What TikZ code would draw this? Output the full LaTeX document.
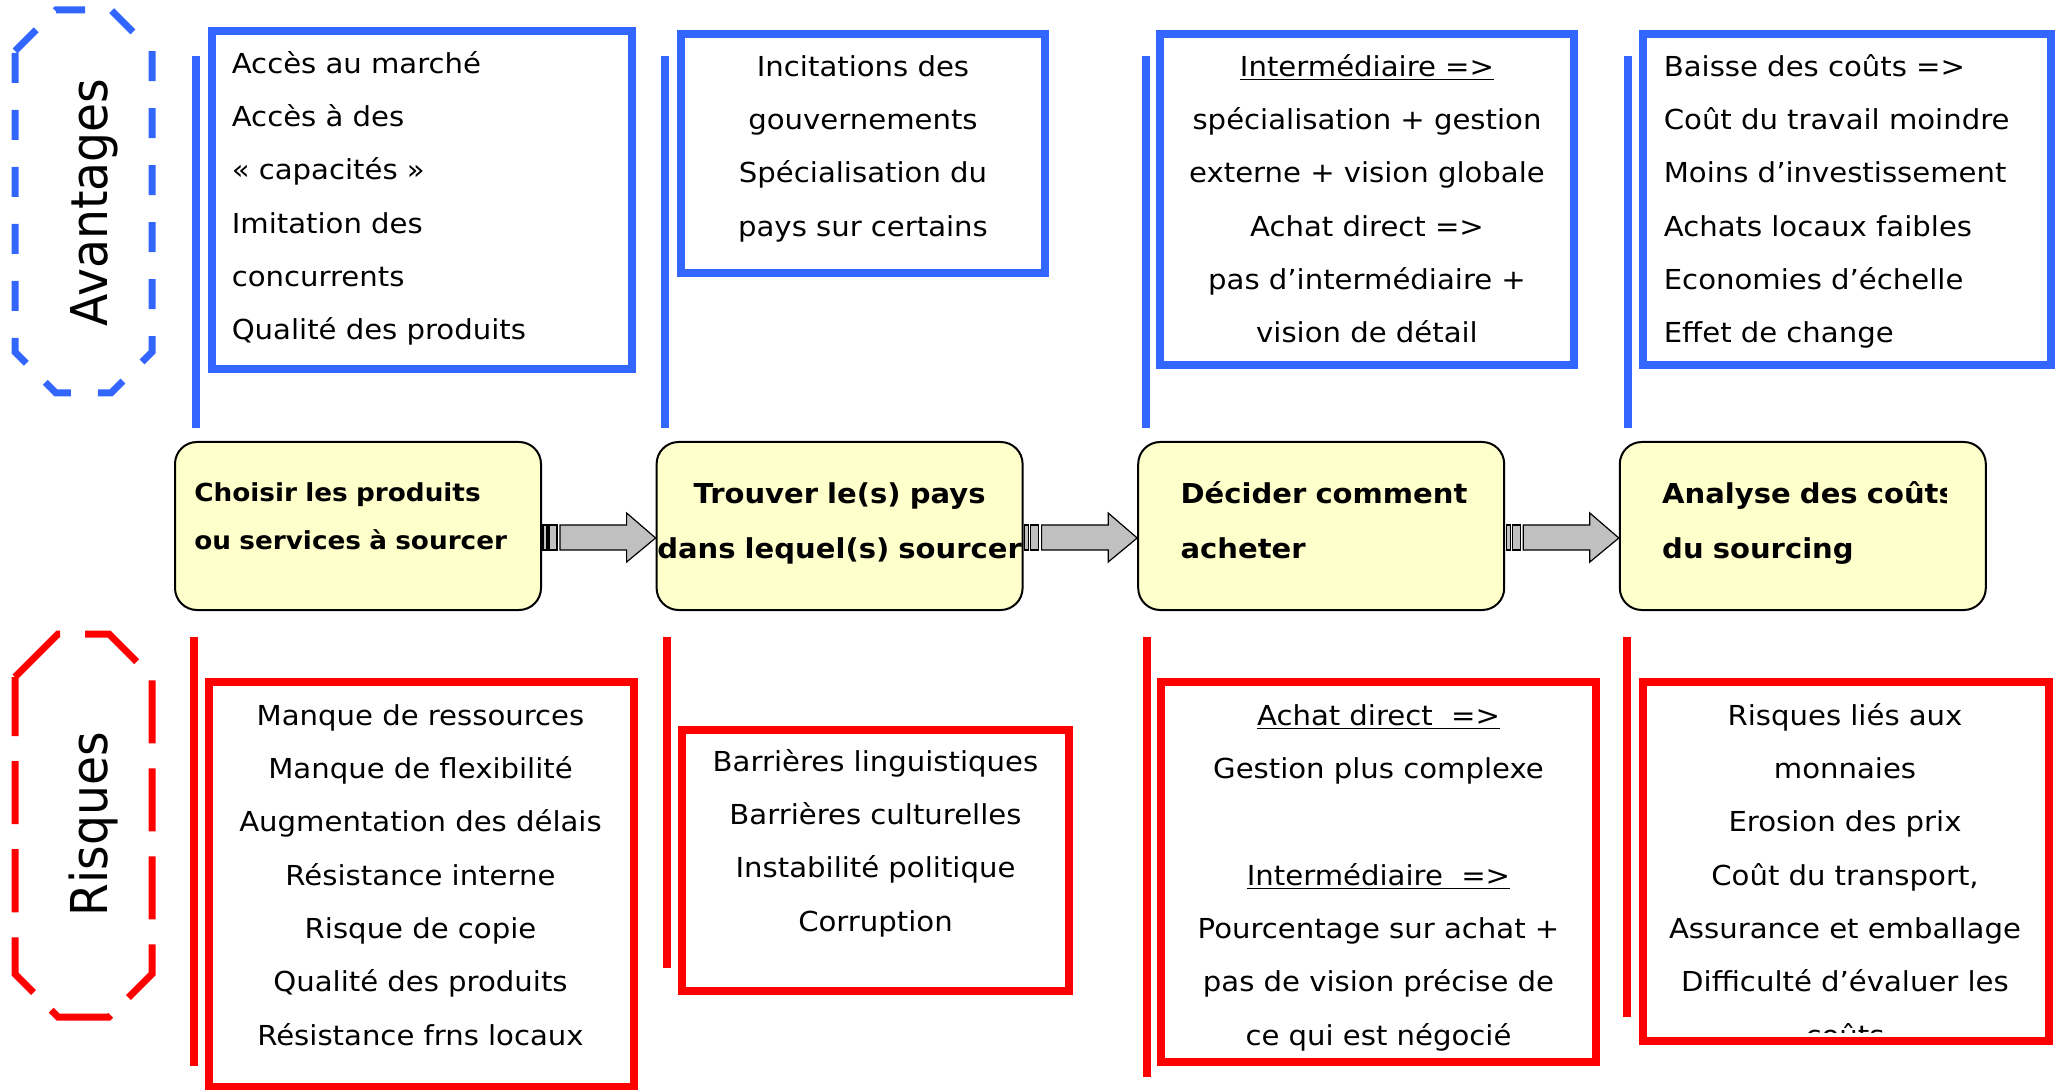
\documentclass[tikz,border=0pt]{standalone}
\usepackage{fontspec}
\setmainfont{DejaVu Sans}[FakeStretch=1.06]
\newfontfamily\sidefont{DejaVu Sans}[FakeStretch=0.93]
\usetikzlibrary{positioning,calc}
\definecolor{avblue}{HTML}{3366FF}
\definecolor{rired}{HTML}{FF0000}
\definecolor{stepfill}{HTML}{FFFFCC}
\definecolor{flowgrey}{HTML}{C0C0C0}
% striped block arrow between two step boxes
\newcommand{\stepflow}[2]{%
  \draw[flow] ($(#1.east)+(1,-1)$) rectangle ($(#1.east)+(5,24)$);
  \draw[flow] ($(#1.east)+(7,-1)$) rectangle ($(#1.east)+(15,24)$);
  \draw[flow] ($(#1.east)+(18,-1)$) -- ($(#2.west)+(-29,-1)$) -- ($(#2.west)+(-29,-13)$) -- ($(#2.west)+(0,12)$)
    -- ($(#2.west)+(-29,36)$) -- ($(#2.west)+(-29,24)$) -- ($(#1.east)+(18,24)$) -- cycle;}

\begin{document}
\begin{tikzpicture}[x=0.5pt,y=-0.5pt,
  avbox/.style={draw=avblue,line width=3.6pt,inner sep=0},
  ribox/.style={draw=rired,line width=3.8pt,inner sep=0},
  bar/.style={line width=3.6pt},
  octa/.style={line width=3.5pt},
  stepbox/.style={draw=black,fill=stepfill,rounded corners=11pt,line width=1pt,minimum width=183pt,minimum height=84pt,inner sep=0},
  flow/.style={draw=black,fill=flowgrey,line width=.6pt},
  txt/.style={font=\fontsize{13.75}{26.65}\selectfont,inner sep=0,text width=230pt,align=center,anchor=base},
  txtl/.style={txt,align=left,anchor=base west},
  steptxt/.style={font=\bfseries\fontsize{13.7}{27.5}\selectfont,inner sep=0,text width=200pt,align=left,anchor=base west},
  sidelabel/.style={font=\sidefont\fontsize{25.4}{30}\selectfont,inner sep=0,rotate=90,anchor=base}]
\useasboundingbox (0,0) rectangle (2060,1090);

% side labels
\draw[avblue,octa,dash pattern=on 15pt off 13.5pt] (15,51) -- (56,10) -- (111,10) -- (152,51) -- (152,352) -- (111,393) -- (56,393) -- (15,352) -- cycle;
\draw[rired,octa,dash pattern=on 31.5pt off 12.5pt] (15,677) -- (58,634) -- (109,634) -- (152,677) -- (152,974) -- (109,1017) -- (58,1017) -- (15,974) -- cycle;
\node[sidelabel] (avlabel) at (107,202.5) {Avantages};
\node[sidelabel] (rilabel) at (107,824) {Risques};

% bars
\draw[bar,avblue] (196,56) -- (196,428);
\draw[bar,avblue] (665,56) -- (665,428);
\draw[bar,avblue] (1146,56) -- (1146,428);
\draw[bar,avblue] (1628,56) -- (1628,428);
\draw[bar,rired] (194,637) -- (194,1066);
\draw[bar,rired] (667,637) -- (667,968);
\draw[bar,rired] (1147,637) -- (1147,1077);
\draw[bar,rired] (1627,637) -- (1627,1017);

% advantages
\node[avbox,minimum width=210pt,minimum height=169pt] (av1) at (422,200) {};
\node[avbox,minimum width=182pt,minimum height=119.5pt] (av2) at (863,153.5) {};
\node[avbox,minimum width=207pt,minimum height=165.5pt] (av3) at (1367,199.5) {};
\node[avbox,minimum width=204pt,minimum height=165.5pt] (av4) at (1847,199.5) {};
\node[txtl] (av1txt) at ($(av1.north west)+(23,46)$) {Accès au marché\\Accès à des\\« capacités »\\Imitation des\\concurrents\\Qualité des produits};
\node[txt] (av2txt) at ($(av2.north)+(0,46)$) {Incitations des\\gouvernements\\Spécialisation du\\pays sur certains};
\node[txt] (av3txt) at ($(av3.north)+(0,46)$) {\underline{Intermédiaire =>}\\spécialisation + gestion\\externe + vision globale\\Achat direct =>\\pas d’intermédiaire +\\vision de détail};
\node[txtl] (av4txt) at ($(av4.north west)+(24,46)$) {Baisse des coûts =>\\Coût du travail moindre\\Moins d’investissement\\Achats locaux faibles\\Economies d’échelle\\Effet de change};

% steps
\node[stepbox] (step1) at (358,526) {};
\node[stepbox,right=56.8pt of step1] (step2) {};
\node[stepbox,right=56.8pt of step2] (step3) {};
\node[stepbox,right=56.8pt of step3] (step4) {};
\node[steptxt,font=\bfseries\fontsize{12.4}{24}\selectfont] (step1txt) at ($(step1.north west)+(20,61)$) {Choisir les produits\\ou services à sourcer};
\node[steptxt,align=center,anchor=base] (step2txt) at ($(step2.north)+(0,63)$) {Trouver le(s) pays\\dans lequel(s) sourcer};
\node[steptxt] (step3txt) at ($(step3.north west)+(43,63)$) {Décider comment\\acheter};
\begin{scope}
\clip (step4.north west) rectangle ($(step4.south east)+(-40,0)$);
\node[steptxt] (step4txt) at ($(step4.north west)+(43,63)$) {Analyse des coûts\\du sourcing};
\end{scope}
\stepflow{step1}{step2}
\stepflow{step2}{step3}
\stepflow{step3}{step4}

% risks
\node[ribox,minimum width=212.5pt,minimum height=202.5pt] (ri1) at (421.5,884.5) {};
\node[ribox,minimum width=193.5pt,minimum height=130.5pt] (ri2) at (875.5,860.5) {};
\node[ribox,minimum width=217.5pt,minimum height=190pt] (ri3) at (1378.5,872) {};
\node[ribox,minimum width=203pt,minimum height=179.5pt] (ri4) at (1846,861.5) {};
\node[txt] (ri1txt) at ($(ri1.north)+(-1,47)$) {Manque de ressources\\Manque de flexibilité\\Augmentation des délais\\Résistance interne\\Risque de copie\\Qualité des produits\\Résistance frns locaux};
\node[txt] (ri2txt) at ($(ri2.north)+(0,45)$) {Barrières linguistiques\\Barrières culturelles\\Instabilité politique\\Corruption};
\node[txt] (ri3txt) at ($(ri3.north)+(0,47)$) {\underline{Achat direct\ \ =>}\\Gestion plus complexe\\\mbox{}\\\underline{Intermédiaire\ \ =>}\\Pourcentage sur achat +\\pas de vision précise de\\ce qui est négocié};
\begin{scope}
\clip ($(ri4.north west)+(4,4)$) rectangle ($(ri4.south east)+(-4,-12)$);
\node[txt] (ri4txt) at ($(ri4.north)+(-1,47)$) {Risques liés aux\\monnaies\\Erosion des prix\\Coût du transport,\\Assurance et emballage\\Difficulté d’évaluer les\\coûts};
\end{scope}
\end{tikzpicture}
\end{document}
